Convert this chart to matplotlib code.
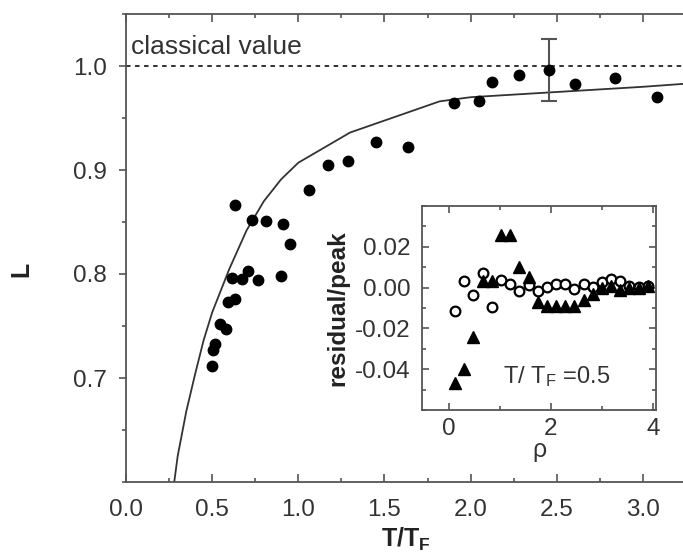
import matplotlib
matplotlib.use("Agg")
import matplotlib.pyplot as plt
from matplotlib.ticker import MultipleLocator

plt.rcParams["font.family"] = ["Liberation Sans", "DejaVu Sans"]
plt.rcParams["mathtext.fontset"] = "custom"
plt.rcParams["mathtext.rm"] = "Liberation Sans"
plt.rcParams["mathtext.it"] = "Liberation Sans"
plt.rcParams["mathtext.bf"] = "Liberation Sans:bold"
plt.rcParams["axes.unicode_minus"] = False

TXT = "#333333"
SPINE = "#555555"

# measured L against T/T_F
t_meas = [0.499, 0.505, 0.518, 0.543, 0.582, 0.593, 0.635, 0.614, 0.674, 0.707,
          0.767, 0.634, 0.732, 0.813, 0.909, 0.952, 0.900, 1.064, 1.173, 1.291,
          1.449, 1.636, 1.902, 2.050, 2.124, 2.280, 2.457, 2.605, 2.836, 3.083]
l_meas = [0.712, 0.727, 0.733, 0.752, 0.747, 0.773, 0.776, 0.796, 0.795, 0.803,
          0.794, 0.866, 0.852, 0.851, 0.848, 0.829, 0.798, 0.881, 0.905, 0.909,
          0.927, 0.922, 0.964, 0.966, 0.985, 0.991, 0.996, 0.983, 0.988, 0.970]

# theory curve
t_theory = [0.28, 0.30, 0.35, 0.40, 0.45, 0.50, 0.60, 0.70, 0.80, 0.90, 1.00,
            1.30, 1.82, 2.00, 2.50, 3.00, 3.25]
l_theory = [0.600, 0.625, 0.668, 0.703, 0.736, 0.763, 0.805, 0.842, 0.870, 0.891,
            0.907, 0.936, 0.966, 0.970, 0.975, 0.980, 0.983]

# representative error bar
err_t = [2.457]
err_l = [0.996]
err_half = [0.030]

classical = 1.0

# inset: residual/peak against rho at T/T_F = 0.5
rho = [0.12, 0.30, 0.48, 0.66, 0.84, 1.02, 1.20, 1.38, 1.56, 1.74, 1.92,
       2.10, 2.28, 2.46, 2.64, 2.82, 3.00, 3.18, 3.36, 3.54, 3.72, 3.90]
res_tri = [-0.047, -0.040, -0.024, 0.003, 0.003, 0.026, 0.026, 0.010, 0.005, -0.007, -0.009,
           -0.009, -0.009, -0.009, -0.006, -0.003, 0.000, 0.001, -0.001, 0.000, 0.000, 0.001]
res_circ = [-0.0115, 0.0031, -0.0036, 0.0070, -0.0094, 0.0038, 0.0020, -0.0015, 0.0015, -0.0015, 0.0003,
            0.0017, 0.0017, -0.0007, 0.0017, 0.0003, 0.0028, 0.0043, 0.0030, 0.0010, 0.0005, 0.0008]

W, H = 683, 558
fig = plt.figure(figsize=(W / 100, H / 100), dpi=100)

ax = fig.add_axes([126 / W, 1 - 482 / H, (686 - 126) / W, (482 - 14) / H])
ax.set_xlim(0, 3.25)
ax.set_ylim(0.6, 1.05)
ax.axhline(classical, color="#222222", lw=1.3, ls=(0, (2.5, 2.5)), zorder=1)
ax.plot(t_theory, l_theory, color="#333333", lw=1.3, zorder=2)
ax.plot(t_meas, l_meas, "o", color="black", ms=7.5, zorder=3)
ax.errorbar(err_t, err_l, yerr=err_half, fmt="none", ecolor="#555555",
            elinewidth=1.5, capsize=6, capthick=1.5, zorder=2)
ax.text(0.03, 1.012, "classical value", fontsize=19, color=TXT)

ax.xaxis.set_major_locator(MultipleLocator(0.5))
ax.xaxis.set_minor_locator(MultipleLocator(0.25))
ax.set_yticks([0.7, 0.8, 0.9, 1.0])
ax.yaxis.set_minor_locator(MultipleLocator(0.05))
ax.set_xticks([0.0, 0.5, 1.0, 1.5, 2.0, 2.5, 3.0])
ax.set_xticklabels(["0.0", "0.5", "1.0", "1.5", "2.0", "2.5", "3.0"])
ax.set_yticklabels(["0.7", "0.8", "0.9", "1.0"])
ax.tick_params(axis="x", which="both", direction="in", top=True, colors=SPINE,
               labelcolor=TXT, labelsize=17.5, pad=12)
ax.tick_params(axis="x", which="major", length=6, width=1.2)
ax.tick_params(axis="x", which="minor", length=3, width=1.2)
ax.tick_params(axis="y", which="both", direction="out", colors=SPINE,
               labelcolor=TXT, labelsize=17.5, pad=9)
ax.tick_params(axis="y", which="major", length=5, width=1.2)
ax.tick_params(axis="y", which="minor", length=3, width=1.2)
ax.yaxis.set_tick_params(which="both", right=True)
for sp in ax.spines.values():
    sp.set_color(SPINE)
    sp.set_linewidth(1.3)
ax.set_xlabel(r"$\mathbf{T/T_F}$", fontsize=18, color="#222222", labelpad=4)
ax.set_ylabel("L", fontsize=18, fontweight="bold", color="#222222")
ax.yaxis.set_label_coords(-0.165, 0.455)

# inset
ins = fig.add_axes([422 / W, 1 - 410 / H, (656 - 422) / W, (410 - 206) / H])
ins.set_xlim(-0.53, 4.06)
ins.set_ylim(-0.06, 0.04)
ins.plot(rho, res_circ, "o", mfc="white", mec="black", mew=1.6, ms=7, zorder=3)
ins.plot(rho, res_tri, "^", color="black", ms=8.5, zorder=4)
ins.set_xticks([0, 2, 4])
ins.xaxis.set_minor_locator(MultipleLocator(1))
ins.set_yticks([-0.04, -0.02, 0.0, 0.02])
ins.set_yticklabels(["-0.04", "-0.02", "0.00", "0.02"])
ins.yaxis.set_minor_locator(MultipleLocator(0.01))
ins.tick_params(which="both", direction="in", top=True, right=True, colors=SPINE,
                labelcolor=TXT, labelsize=17.5, width=1.2)
ins.tick_params(which="major", length=5, pad=6)
ins.tick_params(which="minor", length=3)
ins.tick_params(axis="y", pad=8)
for sp in ins.spines.values():
    sp.set_color(SPINE)
    sp.set_linewidth(1.3)
ins.text(1.06, -0.047, r"T/ T$_\mathrm{F}$ =0.5", fontsize=17, color=TXT)
ins.set_xlabel("ρ", fontsize=18, color=TXT, labelpad=-2)
ins.set_ylabel("residual/peak", fontsize=17.5, fontweight="bold", color="#222222",
               labelpad=4)

fig.savefig("out.png", dpi=100)
